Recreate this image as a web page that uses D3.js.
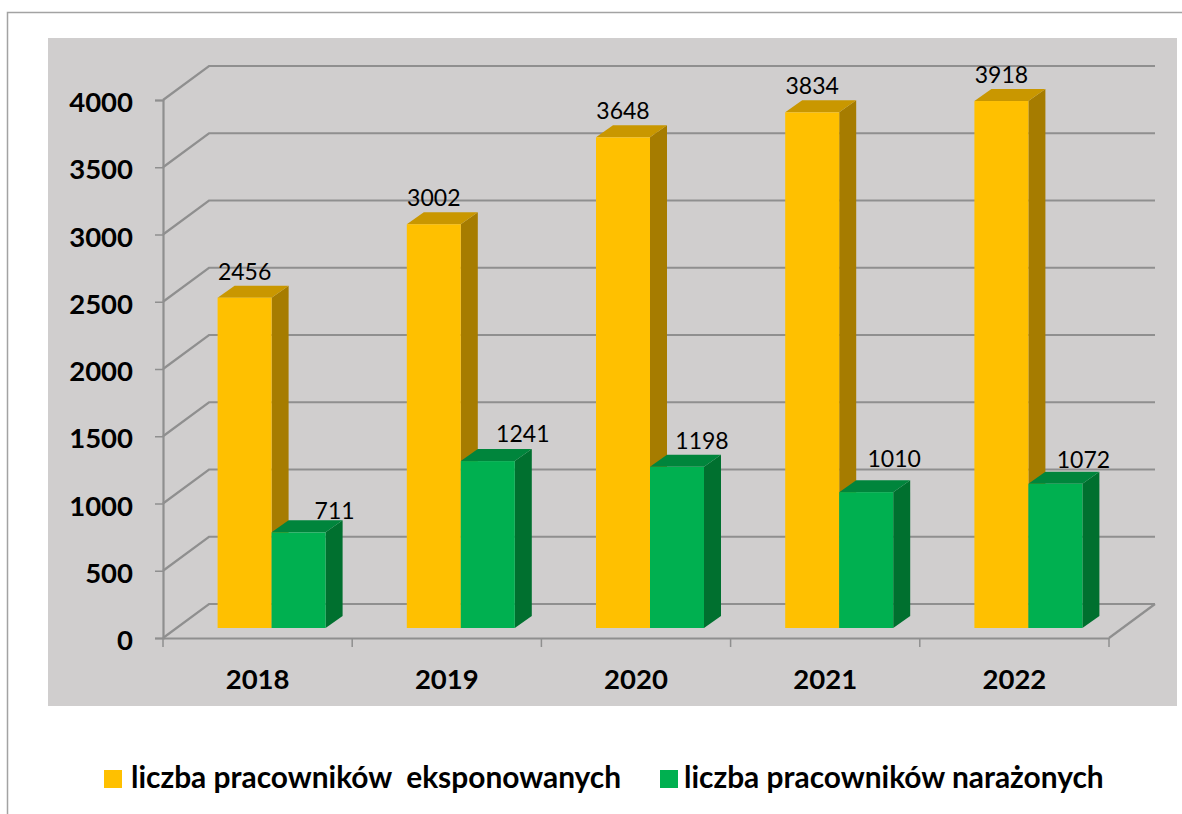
<!DOCTYPE html>
<html>
<head>
<meta charset="utf-8">
<script src="https://cdn.jsdelivr.net/npm/d3@7"></script>
<style>
  body { margin: 0; background: #fff; }
  svg { display: block; }
  text { font-family: Lato, "Open Sans", sans-serif; fill: #000; }
</style>
</head>
<body>
<div id="chart"></div>
<script>
// data
const years = ["2018", "2019", "2020", "2021", "2022"];
const exposed = [2456, 3002, 3648, 3834, 3918];
const endangered = [711, 1241, 1198, 1010, 1072];
const yTicks = [0, 500, 1000, 1500, 2000, 2500, 3000, 3500, 4000];
const legendLabels = ["liczba pracowników  eksponowanych", "liczba pracowników narażonych"];

const width = 1182;
const height = 814;
const depth = { x: 46, y: -34 };    // depth of the chart floor
const barDepth = { x: 17, y: -12 }; // depth of one bar
const barWidth = 54;
const barShift = 14;                // bars sit right of the band centre
const gridColor = "#8f8f8f";

const svg = d3.select("#chart")
  .append("svg")
  .attr("width", width)
  .attr("height", height);

// outer chart border, only top and left are visible
svg.append("path")
  .attr("d", "M7.5,814V12.5H1182")
  .attr("fill", "none")
  .attr("stroke", "#a3a3a3")
  .attr("stroke-width", 1.5);

// grey plot background
svg.append("rect")
  .attr("x", 48).attr("y", 38)
  .attr("width", 1129).attr("height", 668)
  .attr("fill", "#d0cece");

const x = d3.scaleBand().domain(years).range([163, 1109]);
const y = d3.scaleLinear().domain([0, 4000]).range([638, 100]);

// gridlines: side wall diagonal + back wall line
svg.append("g")
  .selectAll("path")
  .data(yTicks)
  .join("path")
  .attr("d", d => `M${x.range()[0]},${y(d)}l${depth.x},${depth.y}H${x.range()[1] + depth.x}`)
  .attr("fill", "none")
  .attr("stroke", gridColor)
  .attr("stroke-width", 2.2);

// right edge of the floor
svg.append("line")
  .attr("x1", x.range()[1]).attr("y1", y(0))
  .attr("x2", x.range()[1] + depth.x).attr("y2", y(0) + depth.y)
  .attr("stroke", gridColor)
  .attr("stroke-width", 2.2);

// y axis
const yAxis = svg.append("g")
  .attr("transform", `translate(${x.range()[0]},0)`)
  .call(d3.axisLeft(y).tickValues(yTicks).tickFormat(d3.format("d")).tickSize(8).tickPadding(22));
yAxis.selectAll("text")
  .attr("font-size", 27.5)
  .attr("font-weight", 700)
  .attr("dy", "0.42em")
  .style("font-family", "Lato");

// x axis, labels centred in the band and ticks on the band edges
const xAxis = svg.append("g")
  .attr("transform", `translate(0,${y(0)})`)
  .call(d3.axisBottom(x).tickSize(0).tickPadding(31));
xAxis.selectAll("text")
  .attr("font-size", 27.5)
  .attr("font-weight", 700)
  .style("font-family", "Lato");
svg.append("g")
  .selectAll("line")
  .data(d3.range(years.length + 1))
  .join("line")
  .attr("x1", d => x.range()[0] + d * x.bandwidth())
  .attr("x2", d => x.range()[0] + d * x.bandwidth())
  .attr("y1", y(0))
  .attr("y2", y(0) + 9)
  .attr("stroke", gridColor)
  .attr("stroke-width", 1.5);
[yAxis, xAxis].forEach(a => a.selectAll(".domain, .tick line").attr("stroke", gridColor).attr("stroke-width", 2.2));
yAxis.selectAll(".tick line").attr("stroke-width", 1.5);

// bars
const base = y(0) - 10;
const barTop = v => y(v) - 10;
const series = [
  { values: exposed, offset: -barWidth, front: "#ffc000", top: "#c99700", side: "#a67c00" },
  { values: endangered, offset: 0, front: "#00b050", top: "#00853c", side: "#00702f" }
];

years.forEach((year, i) => {
  const cx = x(year) + x.bandwidth() / 2 + barShift;
  series.forEach(s => {
    const left = cx + s.offset;
    const right = left + barWidth;
    const t = barTop(s.values[i]);
    const g = svg.append("g");
    g.append("path") // side face
      .attr("d", `M${right},${t}l${barDepth.x},${barDepth.y}V${base + barDepth.y}L${right},${base}Z`)
      .attr("fill", s.side);
    g.append("path") // top face
      .attr("d", `M${left},${t}l${barDepth.x},${barDepth.y}H${right + barDepth.x}L${right},${t}Z`)
      .attr("fill", s.top);
    g.append("rect")
      .attr("x", left).attr("y", t)
      .attr("width", barWidth).attr("height", base - t)
      .attr("fill", s.front);
  });
});

// value labels, green ones were nudged by hand in the original chart
const exposedDx = [0, 0, 0, 0, 0];
const exposedDy = [0, 0, 0, 0, 0];
const endangeredDx = [36, 35, 25, 28, 28];
const endangeredDy = [5, -1, 0, -7, 2];
function addLabels(values, centerOffset, dx, dy) {
  svg.append("g")
    .selectAll("text")
    .data(values)
    .join("text")
    .attr("x", (d, i) => x(years[i]) + x.bandwidth() / 2 + barShift + centerOffset + dx[i])
    .attr("y", (d, i) => barTop(d) - 18 + dy[i])
    .attr("text-anchor", "middle")
    .attr("font-size", 23)
    .text(d => d);
}
addLabels(exposed, -barWidth / 2, exposedDx, exposedDy);
addLabels(endangered, barWidth / 2, endangeredDx, endangeredDy);

// legend
const legendX = [104, 660];
const legendTextX = [27, 24];
const legend = svg.append("g")
  .selectAll("g")
  .data(legendLabels)
  .join("g")
  .attr("transform", (d, i) => `translate(${legendX[i]},770)`);
legend.append("rect")
  .attr("width", 18).attr("height", 18)
  .attr("fill", (d, i) => series[i].front);
legend.append("text")
  .attr("x", (d, i) => legendTextX[i]).attr("y", 18)
  .attr("font-size", 29.9)
  .attr("font-weight", 700)
  .style("white-space", "pre")
  .text(d => d);
</script>
</body>
</html>
